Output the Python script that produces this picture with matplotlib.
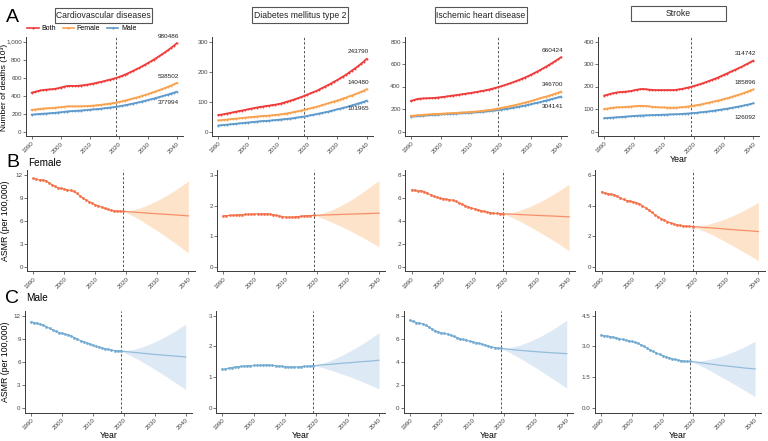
import matplotlib
matplotlib.use("Agg")
import matplotlib.pyplot as plt
from matplotlib.patches import Rectangle
from matplotlib.lines import Line2D
import numpy as np

plt.rcParams['font.family'] = ['Liberation Sans', 'DejaVu Sans']

diseases = ["Cardiovascular diseases", "Diabetes mellitus type 2", "Ischemic heart disease", "Stroke"]
years = np.arange(1990, 2041)
hist_years = np.arange(1990, 2020)
proj_years = [2019, 2022, 2025, 2028, 2031, 2034, 2037, 2040]

# --- A: number of deaths (x 1000), 1990-2040
cvd_both = [432, 440, 448, 456, 461, 465, 467, 470, 474, 480,
            488, 497, 504, 507, 506, 506, 508, 511, 515, 520,
            525, 531, 538, 545, 552, 560, 568, 576, 585, 594,
            605, 617, 630, 644, 659, 674, 690, 706, 723, 741,
            759, 778, 797, 817, 838, 859, 881, 904, 928, 953, 980]
cvd_female = [240, 244, 248, 252, 255, 257, 259, 261, 264, 267,
              270, 274, 278, 280, 280, 279, 279, 280, 281, 283,
              285, 287, 290, 293, 297, 301, 305, 310, 315, 320,
              327, 334, 342, 350, 358, 367, 376, 385, 395, 405,
              415, 426, 437, 448, 460, 472, 484, 497, 510, 524, 539]
cvd_male = [188, 190, 193, 196, 198, 200, 202, 205, 208, 211,
            214, 218, 222, 225, 227, 229, 231, 233, 236, 239,
            242, 245, 248, 251, 254, 258, 262, 266, 270, 274,
            279, 285, 291, 297, 304, 311, 318, 325, 333, 341,
            349, 357, 365, 374, 383, 392, 401, 411, 421, 431, 442]

dm_both = [55, 56, 58, 60, 62, 64, 66, 68, 70, 72,
           74, 76, 78, 80, 82, 83, 85, 86, 88, 89,
           91, 93, 96, 99, 102, 105, 108, 112, 115, 119,
           123, 127, 131, 135, 140, 145, 150, 155, 160, 166,
           171, 177, 183, 189, 196, 203, 210, 217, 225, 233, 242]
dm_female = [37, 38, 39, 40, 41, 42, 43, 44, 45, 46,
             47, 48, 49, 50, 51, 52, 52, 53, 54, 55,
             56, 57, 59, 60, 62, 64, 66, 68, 70, 72,
             75, 77, 80, 82, 85, 88, 91, 94, 97, 100,
             103, 106, 110, 113, 117, 120, 124, 128, 132, 136, 141]
dm_male = [20, 21, 22, 23, 24, 25, 26, 27, 28, 29,
           30, 31, 32, 33, 34, 35, 35, 36, 37, 38,
           39, 40, 41, 42, 43, 44, 46, 47, 49, 50,
           52, 54, 56, 58, 60, 62, 64, 66, 69, 71,
           74, 76, 79, 81, 84, 87, 90, 93, 96, 99, 103]

ihd_both = [272, 280, 288, 292, 294, 295, 296, 297, 299, 302,
            305, 308, 312, 316, 320, 323, 327, 331, 335, 339,
            343, 347, 352, 357, 362, 367, 373, 380, 387, 394,
            402, 410, 419, 428, 438, 448, 458, 469, 480, 492,
            505, 518, 532, 546, 561, 576, 592, 608, 625, 642, 660]
ihd_female = [140, 142, 144, 146, 148, 150, 152, 154, 156, 157,
              158, 160, 161, 163, 164, 166, 167, 169, 170, 172,
              174, 176, 178, 181, 184, 187, 191, 195, 199, 204,
              209, 214, 219, 225, 231, 237, 243, 250, 257, 264,
              271, 279, 287, 295, 303, 310, 318, 327, 336, 345, 354]
ihd_male = [133, 135, 137, 139, 141, 143, 145, 147, 149, 151,
            152, 154, 155, 157, 158, 160, 161, 163, 164, 166,
            167, 169, 171, 173, 175, 178, 181, 184, 187, 190,
            194, 198, 202, 206, 211, 216, 221, 226, 231, 237,
            243, 249, 255, 261, 268, 275, 282, 289, 296, 303, 310]

stroke_both = [160, 163, 167, 170, 173, 175, 176, 177, 178, 180,
               183, 186, 188, 189, 188, 186, 185, 184, 184, 184,
               184, 184, 184, 184, 185, 187, 189, 192, 195, 198,
               202, 206, 210, 214, 219, 224, 229, 234, 239, 245,
               251, 257, 263, 269, 275, 281, 287, 294, 301, 308, 315]
stroke_female = [100, 102, 104, 106, 107, 108, 108, 109, 110, 111,
                 112, 113, 114, 114, 113, 112, 110, 109, 108, 107,
                 107, 106, 106, 106, 106, 107, 108, 109, 111, 113,
                 115, 117, 119, 122, 125, 128, 131, 134, 137, 140,
                 144, 147, 151, 155, 159, 163, 167, 172, 177, 182, 187]
stroke_male = [59, 60, 61, 62, 63, 64, 65, 66, 67, 68,
               69, 70, 71, 71, 72, 72, 73, 73, 74, 74,
               75, 75, 76, 76, 77, 77, 78, 79, 80, 81,
               82, 83, 85, 86, 88, 89, 91, 93, 95, 97,
               99, 101, 103, 106, 108, 111, 113, 116, 119, 122, 126]

end_labels = [["980486", "538502", "377994"], ["243790", "140480", "101965"],
              ["660424", "346700", "304141"], ["314742", "185896", "126092"]]

# --- B: female ASMR, observed 1990-2019 and projection
cvd_f = [11.55, 11.45, 11.35, 11.35, 11.25, 11.0, 10.75, 10.5, 10.3, 10.25,
         10.15, 10.05, 10.0, 9.85, 9.6, 9.3, 9.0, 8.75, 8.5, 8.3,
         8.1, 7.95, 7.8, 7.65, 7.5, 7.4, 7.32, 7.28, 7.26, 7.25]
cvd_f_mean = [7.25, 7.16, 7.07, 6.98, 6.90, 6.82, 6.74, 6.65]
cvd_f_lo = [7.25, 6.69, 5.99, 5.22, 4.43, 3.59, 2.71, 1.80]
cvd_f_hi = [7.25, 7.41, 7.77, 8.26, 8.87, 9.56, 10.35, 11.2]

dm_f = [1.67, 1.67, 1.68, 1.68, 1.69, 1.70, 1.70, 1.71, 1.71, 1.72,
        1.72, 1.73, 1.73, 1.73, 1.73, 1.72, 1.70, 1.68, 1.66, 1.64,
        1.62, 1.62, 1.62, 1.63, 1.64, 1.65, 1.66, 1.67, 1.67, 1.68]
dm_f_mean = [1.68, 1.69, 1.70, 1.71, 1.72, 1.73, 1.74, 1.75]
dm_f_lo = [1.68, 1.58, 1.45, 1.31, 1.16, 1.00, 0.83, 0.65]
dm_f_hi = [1.68, 1.75, 1.86, 2.01, 2.18, 2.38, 2.60, 2.82]

ihd_f = [6.72, 6.65, 6.6, 6.62, 6.55, 6.4, 6.28, 6.15, 6.05, 6.0,
         5.92, 5.88, 5.85, 5.8, 5.7, 5.58, 5.45, 5.33, 5.22, 5.12,
         5.05, 4.98, 4.9, 4.82, 4.76, 4.71, 4.67, 4.65, 4.63, 4.62]
ihd_f_mean = [4.62, 4.58, 4.54, 4.50, 4.46, 4.43, 4.39, 4.35]
ihd_f_lo = [4.62, 4.29, 3.88, 3.43, 2.96, 2.46, 1.94, 1.40]
ihd_f_hi = [4.62, 4.73, 4.98, 5.30, 5.69, 6.15, 6.65, 7.20]

stroke_f = [4.9, 4.82, 4.78, 4.75, 4.7, 4.6, 4.5, 4.4, 4.33, 4.3,
            4.25, 4.2, 4.12, 4.0, 3.85, 3.7, 3.55, 3.4, 3.27, 3.15,
            3.05, 2.95, 2.87, 2.8, 2.74, 2.7, 2.67, 2.65, 2.64, 2.63]
stroke_f_mean = [2.63, 2.58, 2.54, 2.49, 2.44, 2.39, 2.35, 2.30]
stroke_f_lo = [2.63, 2.40, 2.12, 1.80, 1.47, 1.12, 0.77, 0.40]
stroke_f_hi = [2.63, 2.68, 2.83, 3.02, 3.26, 3.54, 3.86, 4.20]

# --- C: male ASMR
cvd_m = [11.2, 11.1, 11.0, 10.9, 10.75, 10.55, 10.35, 10.15, 9.95, 9.8,
         9.7, 9.6, 9.5, 9.35, 9.15, 8.95, 8.75, 8.6, 8.45, 8.3,
         8.15, 8.0, 7.9, 7.8, 7.7, 7.6, 7.52, 7.46, 7.42, 7.4]
cvd_m_mean = [7.40, 7.27, 7.15, 7.03, 6.92, 6.82, 6.72, 6.63]
cvd_m_lo = [7.40, 6.86, 6.21, 5.50, 4.76, 4.00, 3.20, 2.40]
cvd_m_hi = [7.40, 7.50, 7.80, 8.23, 8.76, 9.39, 10.11, 10.9]

dm_m = [1.25, 1.27, 1.29, 1.31, 1.33, 1.34, 1.35, 1.36, 1.37, 1.37,
        1.38, 1.38, 1.39, 1.39, 1.40, 1.39, 1.38, 1.37, 1.36, 1.35,
        1.34, 1.33, 1.33, 1.33, 1.33, 1.34, 1.35, 1.35, 1.36, 1.37]
dm_m_mean = [1.37, 1.40, 1.42, 1.45, 1.47, 1.50, 1.52, 1.55]
dm_m_lo = [1.37, 1.31, 1.21, 1.11, 1.00, 0.88, 0.75, 0.62]
dm_m_hi = [1.37, 1.45, 1.56, 1.70, 1.86, 2.04, 2.23, 2.45]

ihd_m = [7.6, 7.5, 7.4, 7.35, 7.3, 7.15, 7.0, 6.85, 6.7, 6.6,
         6.5, 6.45, 6.4, 6.3, 6.2, 6.1, 6.0, 5.93, 5.86, 5.8,
         5.73, 5.66, 5.6, 5.52, 5.45, 5.37, 5.3, 5.23, 5.18, 5.15]
ihd_m_mean = [5.15, 5.07, 4.99, 4.92, 4.86, 4.80, 4.75, 4.70]
ihd_m_lo = [5.15, 4.78, 4.32, 3.83, 3.33, 2.80, 2.26, 1.70]
ihd_m_hi = [5.15, 5.23, 5.43, 5.73, 6.11, 6.55, 7.05, 7.60]

stroke_m = [3.55, 3.52, 3.5, 3.48, 3.45, 3.42, 3.38, 3.34, 3.3, 3.27,
            3.24, 3.2, 3.15, 3.08, 3.0, 2.9, 2.82, 2.75, 2.68, 2.61,
            2.55, 2.5, 2.45, 2.4, 2.36, 2.33, 2.3, 2.28, 2.27, 2.27]
stroke_m_mean = [2.27, 2.21, 2.15, 2.09, 2.04, 1.99, 1.94, 1.90]
stroke_m_lo = [2.27, 2.08, 1.85, 1.60, 1.35, 1.09, 0.82, 0.55]
stroke_m_hi = [2.27, 2.28, 2.36, 2.47, 2.62, 2.80, 3.01, 3.25]

deaths = [(cvd_both, cvd_female, cvd_male), (dm_both, dm_female, dm_male),
          (ihd_both, ihd_female, ihd_male), (stroke_both, stroke_female, stroke_male)]
female = [(cvd_f, cvd_f_mean, cvd_f_lo, cvd_f_hi), (dm_f, dm_f_mean, dm_f_lo, dm_f_hi),
          (ihd_f, ihd_f_mean, ihd_f_lo, ihd_f_hi), (stroke_f, stroke_f_mean, stroke_f_lo, stroke_f_hi)]
male = [(cvd_m, cvd_m_mean, cvd_m_lo, cvd_m_hi), (dm_m, dm_m_mean, dm_m_lo, dm_m_hi),
        (ihd_m, ihd_m_mean, ihd_m_lo, ihd_m_hi), (stroke_m, stroke_m_mean, stroke_m_lo, stroke_m_hi)]

a_ticks = [[0, 200, 400, 600, 800, 1000], [0, 100, 200, 300], [0, 200, 400, 600, 800], [0, 100, 200, 300, 400]]
b_ticks = [[0, 3, 6, 9, 12], [0, 1, 2, 3], [0, 2, 4, 6, 8], [0, 2, 4, 6]]
c_ticks = [[0, 3, 6, 9, 12], [0, 1, 2, 3], [0, 2, 4, 6, 8], [0, 1.5, 3.0, 4.5]]

col_both, col_female, col_male = '#F03B3B', '#F8A24E', '#5E9ACB'
col_b_pt, col_b_line, col_b_band = '#F4714A', '#F7906A', '#FDE3C9'
col_c_pt, col_c_line, col_c_band = '#72AAD2', '#93BDDB', '#DEE9F6'

W, H = 768, 441
fig = plt.figure(figsize=(W / 100, H / 100), dpi=100)


def px_axes(l, t, r, b):
    return fig.add_axes([l / W, 1 - b / H, (r - l) / W, (b - t) / H])


def style(ax, ticks, fmt=None):
    ax.spines[['top', 'right']].set_visible(False)
    for s in ['left', 'bottom']:
        ax.spines[s].set_color('#3a3a3a')
        ax.spines[s].set_linewidth(0.7)
    ax.set_xlim(1988, 2042)
    m = ticks[-1]
    ax.set_ylim(-0.05 * m, 1.05 * m)
    ax.set_xticks(range(1990, 2041, 10))
    ax.set_xticklabels([str(y) for y in range(1990, 2041, 10)], rotation=45,
                       ha='right', rotation_mode='anchor')
    ax.set_yticks(ticks)
    if fmt:
        ax.set_yticklabels(fmt)
    ax.tick_params(labelsize=4.5, colors='#3a3a3a', labelcolor='#444444',
                   length=2, width=0.5, pad=1.5)
    ax.tick_params(axis='y', pad=1.0)
    ax.axvline(2019, color='#555555', ls=(0, (2.5, 2)), lw=0.7, zorder=1)


a_boxes = [(25.9, 37, 182.5, 136), (212.4, 37, 372.6, 136), (405, 37, 567, 136), (598.3, 37, 759.3, 136)]
b_boxes = [(27.1, 170.4, 194.5, 271.3), (217.1, 170.4, 385.2, 271.3), (405.4, 170.4, 575.3, 271.3), (595.4, 170.4, 764.6, 271.3)]
c_boxes = [(24.8, 311, 191.9, 412.5), (216, 311, 385.3, 412.5), (403.7, 311, 573, 412.5), (594.8, 311, 761.2, 412.5)]
title_boxes = [(55, 8, 152, 23), (252, 7, 348, 23), (435, 7, 527, 23), (631, 6, 726, 21)]
male_offsets = [-7.5, -5.5, -7, -10.5]

for i in range(4):
    ax = px_axes(*a_boxes[i])
    fmt = ['0', '200', '400', '600', '800', '1,000'] if i == 0 else None
    style(ax, a_ticks[i], fmt)
    both, fem, mal = deaths[i]
    for vals, c in [(mal, col_male), (fem, col_female), (both, col_both)]:
        ax.plot(years, vals, color=c, lw=1.3, marker='o', ms=1.4, mew=0, zorder=3)
    lab = end_labels[i]
    ax.annotate(lab[0], (2040, both[-1]), xytext=(-6, 5), textcoords='offset points',
                ha='center', va='center', fontsize=4.6, color='#222222')
    ax.annotate(lab[1], (2040, fem[-1]), xytext=(-6, 5), textcoords='offset points',
                ha='center', va='center', fontsize=4.6, color='#222222')
    ax.annotate(lab[2], (2040, mal[-1]), xytext=(-6, male_offsets[i]), textcoords='offset points',
                ha='center', va='center', fontsize=4.6, color='#222222')
    if i == 3:
        ax.set_xlabel('Year', fontsize=6.3, labelpad=0.5)

    l, t, r, b = title_boxes[i]
    fig.patches.append(Rectangle((l / W, 1 - b / H), (r - l) / W, (b - t) / H,
                                 transform=fig.transFigure, fill=False,
                                 edgecolor='#555555', lw=0.8))
    fig.text((l + r) / 2 / W, 1 - (t + b) / 2 / H, diseases[i], ha='center', va='center',
             fontsize=6.2, color='#222222')

for row, boxes, ticks, pt, ln, band in [(female, b_boxes, b_ticks, col_b_pt, col_b_line, col_b_band),
                                        (male, c_boxes, c_ticks, col_c_pt, col_c_line, col_c_band)]:
    for i in range(4):
        ax = px_axes(*boxes[i])
        fmt = ['0.0', '1.5', '3.0', '4.5'] if ticks[i][-1] == 4.5 else None
        style(ax, ticks[i], fmt)
        hist, mean, lo, hi = row[i]
        ax.fill_between(proj_years, lo, hi, color=band, lw=0, zorder=2)
        ax.plot(proj_years, mean, color=ln, lw=0.9, zorder=3)
        ax.plot(hist_years, hist, color=pt, lw=0.8, marker='o', ms=2.0, mew=0, zorder=4)
        if row is male:
            ax.set_xlabel('Year', fontsize=6.3, labelpad=0.5)

fig.text(3.8 / W, 1 - 87 / H, 'Number of deaths (10³)', rotation=90, ha='center', va='center', fontsize=6)
fig.text(6 / W, 1 - 221 / H, 'ASMR (per 100,000)', rotation=90, ha='center', va='center', fontsize=6.3)
fig.text(6 / W, 1 - 362 / H, 'ASMR (per 100,000)', rotation=90, ha='center', va='center', fontsize=6.3)

fig.text(6 / W, 1 - 22 / H, 'A', fontsize=14, va='baseline')
fig.text(6 / W, 1 - 167 / H, 'B', fontsize=14, va='baseline')
fig.text(28 / W, 1 - 166 / H, 'Female', fontsize=7.2, va='baseline')
fig.text(5 / W, 1 - 303 / H, 'C', fontsize=14, va='baseline')
fig.text(26 / W, 1 - 301 / H, 'Male', fontsize=7.2, va='baseline')

handles = [Line2D([], [], color=c, lw=1.2, marker='o', ms=1.6, mew=0)
           for c in (col_both, col_female, col_male)]
fig.legend(handles, ['Both', 'Female', 'Male'], loc='center left',
           bbox_to_anchor=(24 / W, 1 - 29 / H), ncol=3, frameon=False, fontsize=5,
           handlelength=1.6, handletextpad=0.4, columnspacing=1.0, borderpad=0)

fig.savefig('out.png', dpi=100)
